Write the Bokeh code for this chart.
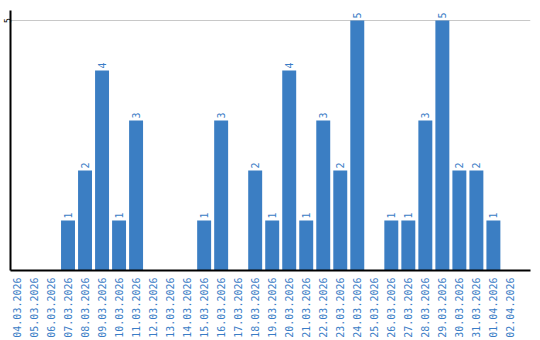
import math
from bokeh.plotting import figure
from bokeh.models import ColumnDataSource, FixedTicker, Range1d
from bokeh.core.properties import value
from bokeh.embed import file_html
from bokeh.resources import INLINE

dates = ["04.03.2026", "05.03.2026", "06.03.2026", "07.03.2026", "08.03.2026",
         "09.03.2026", "10.03.2026", "11.03.2026", "12.03.2026", "13.03.2026",
         "14.03.2026", "15.03.2026", "16.03.2026", "17.03.2026", "18.03.2026",
         "19.03.2026", "20.03.2026", "21.03.2026", "22.03.2026", "23.03.2026",
         "24.03.2026", "25.03.2026", "26.03.2026", "27.03.2026", "28.03.2026",
         "29.03.2026", "30.03.2026", "31.03.2026", "01.04.2026", "02.04.2026"]
counts = [0, 0, 0, 1, 2, 4, 1, 3, 0, 0, 0, 1, 3, 0, 2, 1, 4, 1, 3, 2,
          5, 0, 1, 1, 3, 5, 2, 2, 1, 0]
y_ticks = [5]

BAR = "#3b7ec3"
LBL = "#3a7dc6"
FONT = "DejaVu Sans Mono"

xs = list(range(len(dates)))
src = ColumnDataSource(dict(x=xs, y=counts))
nz = [(i, v) for i, v in zip(xs, counts) if v > 0]
lab = ColumnDataSource(dict(x=[i for i, _ in nz], y=[v + 0.04 for _, v in nz],
                            t=[str(v) for _, v in nz]))

p = figure(width=540, height=340, output_backend="svg", toolbar_location=None,
           x_range=Range1d(-0.38, 30.18), y_range=Range1d(0, 5.2),
           min_border_left=0, min_border_right=10, min_border_top=10,
           min_border_bottom=0)
p.outline_line_color = None
p.background_fill_color = "white"
p.border_fill_color = "white"

p.vbar(x="x", top="y", width=0.82, source=src, fill_color=BAR, line_color=None)
p.text(x="x", y="y", text="t", source=lab, angle=math.pi / 2,
       text_align="left", text_baseline="middle", text_color=LBL,
       text_font=value(FONT), text_font_size="10px")

p.xgrid.grid_line_color = None
p.ygrid.ticker = FixedTicker(ticks=y_ticks)
p.ygrid.grid_line_color = "#c8c8c8"
p.ygrid.grid_line_width = 1

p.xaxis.ticker = FixedTicker(ticks=xs)
p.xaxis.major_label_overrides = {i: d for i, d in zip(xs, dates)}
p.xaxis.major_label_orientation = math.pi / 2
p.xaxis.major_label_text_color = LBL
p.xaxis.major_label_text_font = FONT
p.xaxis.major_label_text_font_size = "10px"
p.xaxis.major_label_standoff = 1
p.xaxis.axis_line_color = "black"
p.xaxis.axis_line_width = 2
p.xaxis.major_tick_line_color = None
p.xaxis.minor_tick_line_color = None

p.yaxis.ticker = FixedTicker(ticks=y_ticks)
p.yaxis.major_label_orientation = "parallel"
p.yaxis.major_label_text_color = "black"
p.yaxis.major_label_text_font = FONT
p.yaxis.major_label_text_font_size = "8px"
p.yaxis.major_label_standoff = 0
p.yaxis.major_tick_out = 0
p.yaxis.major_tick_in = 0
p.yaxis.minor_tick_out = 0
p.yaxis.axis_line_color = "black"
p.yaxis.axis_line_width = 2
p.yaxis.major_tick_line_color = None
p.yaxis.minor_tick_line_color = None

open("out.html", "w").write(file_html(p, INLINE))
